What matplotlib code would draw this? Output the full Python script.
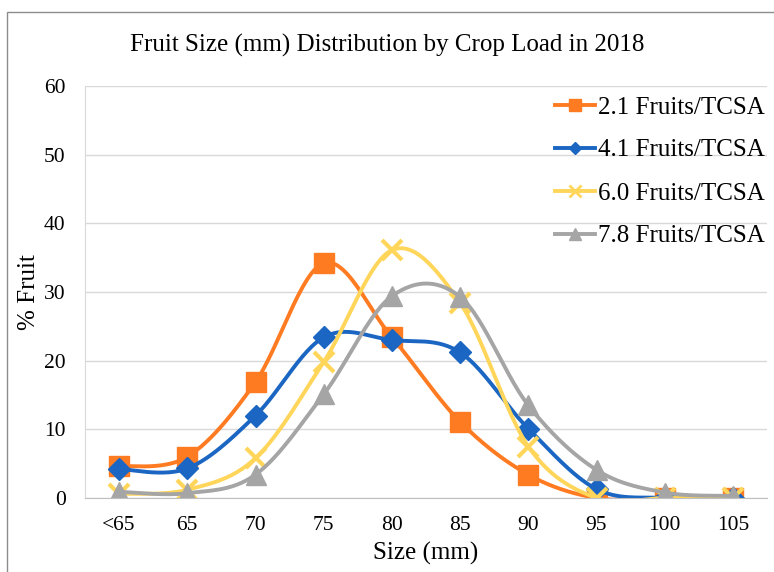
import numpy as np
import matplotlib
matplotlib.use("Agg")
import matplotlib.pyplot as plt
from matplotlib.patches import Rectangle

# categories
sizes = ["<65", "65", "70", "75", "80", "85", "90", "95", "100", "105"]

# % fruit per crop load
load_21 = [4.6, 6.0, 16.9, 34.2, 23.4, 11.1, 3.4, 0.0, 0.0, 0.0]
load_41 = [4.2, 4.3, 12.0, 23.4, 23.0, 21.2, 10.1, 1.3, 0.0, 0.0]
load_60 = [0.6, 1.2, 5.8, 19.8, 36.1, 28.4, 7.5, 0.0, 0.0, 0.0]
load_78 = [0.9, 0.7, 3.4, 15.1, 29.4, 29.3, 13.5, 4.1, 0.8, 0.3]

labels = ["2.1 Fruits/TCSA", "4.1 Fruits/TCSA", "6.0 Fruits/TCSA", "7.8 Fruits/TCSA"]
colors = ["#FF7B22", "#1A66C2", "#FFD55A", "#A5A5A5"]
markers = ["s", "D", "x", "^"]
msizes = [14, 11, 14, 14]


def smooth(x, y, n=30):
    # bezier through points, excel style smoothing
    x = np.asarray(x, float)
    y = np.asarray(y, float)
    px = np.concatenate([[x[0]], x, [x[-1]]])
    py = np.concatenate([[y[0]], y, [y[-1]]])
    xs, ys = [], []
    t = np.linspace(0, 1, n)
    for i in range(1, len(px) - 2):
        p0 = np.array([px[i], py[i]])
        p3 = np.array([px[i + 1], py[i + 1]])
        p1 = p0 + (np.array([px[i + 1], py[i + 1]]) - np.array([px[i - 1], py[i - 1]])) / 6
        p2 = p3 - (np.array([px[i + 2], py[i + 2]]) - np.array([px[i], py[i]])) / 6
        b = ((1 - t) ** 3)[:, None] * p0 + (3 * (1 - t) ** 2 * t)[:, None] * p1 \
            + (3 * (1 - t) * t ** 2)[:, None] * p2 + (t ** 3)[:, None] * p3
        xs.extend(b[:, 0])
        ys.extend(b[:, 1])
    return np.array(xs), np.array(ys)


plt.rcParams['font.family'] = ['Liberation Serif', 'DejaVu Serif']

fig = plt.figure(figsize=(7.74, 5.72), dpi=100)
fig.patches.append(Rectangle((7 / 774, -0.1), 1.2, 1 - 12 / 572 + 0.1, transform=fig.transFigure,
                             fill=False, edgecolor="#8c8c8c", linewidth=1.0, zorder=0))

ax = fig.add_axes([85 / 774, 1 - 498 / 572, (767 - 85) / 774, (498 - 86) / 572])

xi = np.arange(len(sizes))
for data, lab, c, m, ms in zip([load_21, load_41, load_60, load_78], labels, colors, markers, msizes):
    sx, sy = smooth(xi, data)
    ax.plot(sx, sy, color=c, lw=2.8, solid_capstyle="round")
    ax.plot(xi, data, linestyle="none", marker=m, ms=ms, color=c,
            mew=3 if m == "x" else 1, mec=c)
    ax.plot([], [], color=c, lw=2.8, marker=m, ms=ms * 0.6, mew=2 if m == "x" else 1, label=lab)

ax.set_xlim(-0.5, len(sizes) - 0.5)
ax.set_ylim(0, 60)
ax.set_yticks(range(0, 61, 10))
ax.set_xticks(xi)
ax.set_xticklabels(sizes)
ax.tick_params(length=0, labelsize=15.5, pad=13)
ax.tick_params(axis="y", pad=14)
ax.grid(axis="y", color="#d9d9d9", lw=1)
ax.set_axisbelow(True)
for s in ["top", "right"]:
    ax.spines[s].set_visible(False)
ax.spines["left"].set_color("#d9d9d9")
ax.spines["bottom"].set_color("#bfbfbf")

ax.set_xlabel("Size (mm)", fontsize=18, labelpad=5)
ax.set_ylabel("% Fruit", fontsize=18)
ax.yaxis.set_label_coords(-45 / 682, 0.5)
fig.text(0.5, 1 - 45 / 572, "Fruit Size (mm) Distribution by Crop Load in 2018",
         ha="center", va="center", fontsize=18)

leg = ax.legend(loc="upper right", fontsize=18, frameon=False, handlelength=1.6,
                handletextpad=0.15, labelspacing=0.82, borderaxespad=0.0,
                bbox_to_anchor=(1.012, 1.0))

fig.savefig("out.png", dpi=100)
